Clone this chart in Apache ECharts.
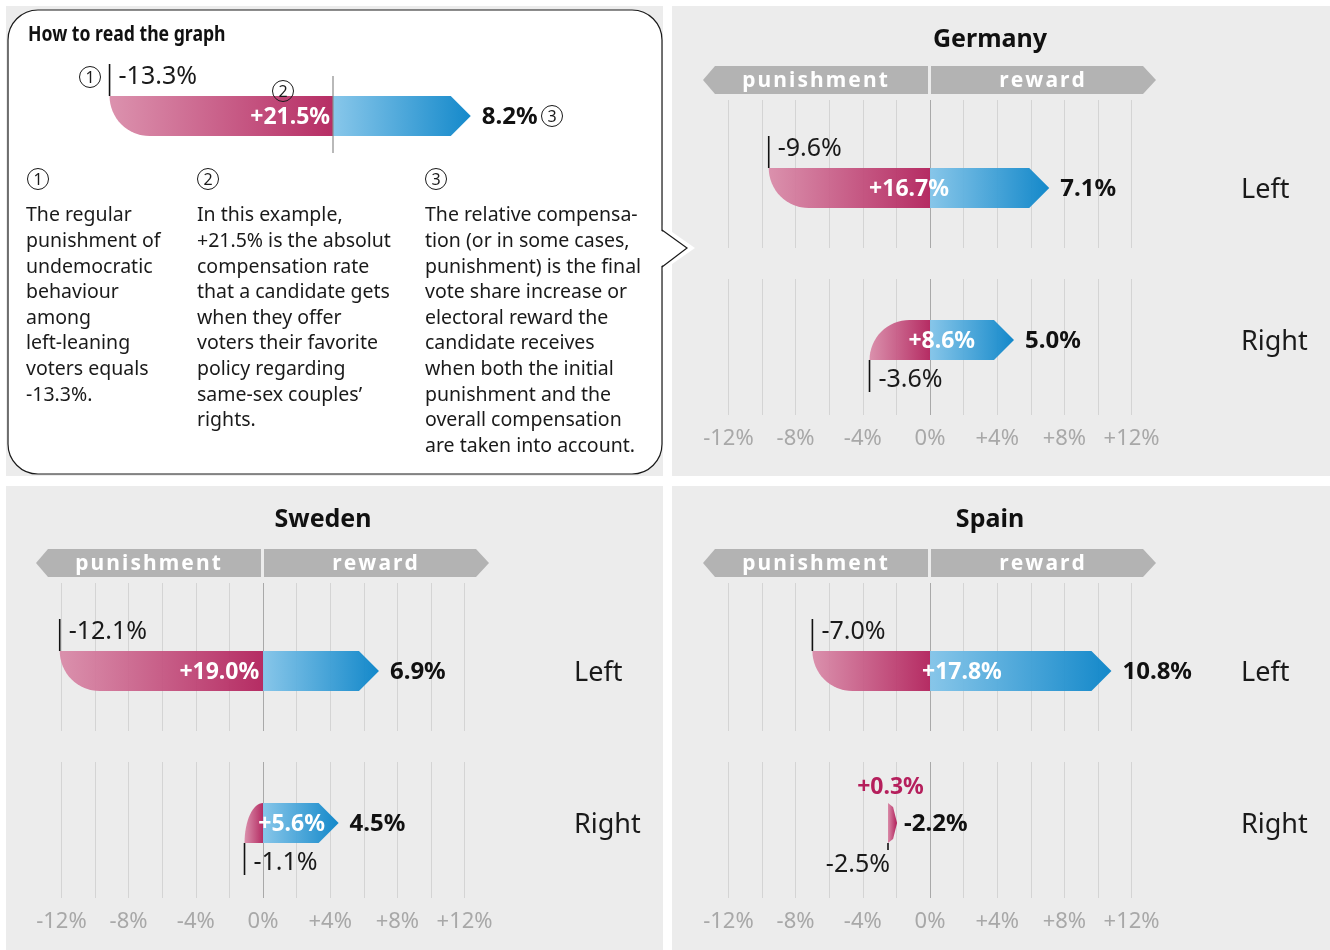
<!DOCTYPE html>
<html>
<head>
<meta charset="utf-8">
<script src="https://cdn.jsdelivr.net/npm/echarts@6/dist/echarts.min.js"></script>
<style>
  html, body { margin: 0; padding: 0; background: #fff; }
  #main { width: 1330px; height: 950px; }
</style>
</head>
<body>
<div id="main"></div>
<script>
  // values, in percentage points
  const countries = ['Germany', 'Sweden', 'Spain']
  const groups = ['Left', 'Right']
  const punishLeft = [-9.6, -12.1, -7.0]
  const compLeft = [16.7, 19.0, 17.8]
  const finalLeft = [7.1, 6.9, 10.8]
  const punishRight = [-3.6, -1.1, -2.5]
  const compRight = [8.6, 5.6, 0.3]
  const finalRight = [5.0, 4.5, -2.2]
  const examplePunish = [-13.3]
  const exampleComp = [21.5]
  const exampleFinal = [8.2]
  const tickLabels = ['-12%', '-8%', '-4%', '0%', '+4%', '+8%', '+12%']

  // layout
  const PX = 16.8 // px per point
  const FONT = '"Noto Sans", "Open Sans", sans-serif'
  const panels = [
    { x0: 930, top: 6, titleY: 40 },   // Germany
    { x0: 263, top: 489, titleY: 520 }, // Sweden
    { x0: 930, top: 489, titleY: 520 }, // Spain
  ]
  const rowFrac = [88 / 148, 61 / 136]
  const PINK = ['#d98aa8', '#b11e59']
  const BLUE = ['#82c4e9', '#0883c8']
  const CRIMSON = '#b51f5c'

  const grad = c => new echarts.graphic.LinearGradient(0, 0, 1, 0, [
    { offset: 0, color: c[0] }, { offset: 1, color: c[1] }
  ])

  // one arrow bar: punishment (pink) then compensation (blue arrow)
  const makeBar = (frac, below, rowName) => (params, api) => {
    const p = api.value(0), comp = api.value(1), f = api.value(2)
    const yc = api.coord([0, frac])[1]
    const xp = api.coord([p, frac])[0]
    const x0 = api.coord([0, frac])[0]
    const xf = api.coord([f, frac])[0]
    const h = 40, top = yc - h / 2, bot = yc + h / 2
    const kids = []

    if (f > 0) {
      const rx = Math.min(40, x0 - xp), ry = h
      const pts = []
      if (!below) {
        pts.push([xp, top], [x0, top], [x0, bot])
        for (let k = 0; k <= 16; k++) {
          const t = Math.PI / 2 + (Math.PI / 2) * k / 16
          pts.push([xp + rx + rx * Math.cos(t), top + ry * Math.sin(t)])
        }
      } else {
        for (let k = 0; k <= 16; k++) {
          const t = Math.PI + (Math.PI / 2) * k / 16
          pts.push([xp + rx + rx * Math.cos(t), bot + ry * Math.sin(t)])
        }
        pts.push([x0, top], [x0, bot])
      }
      kids.push({ type: 'polygon', shape: { points: pts }, style: { fill: grad(PINK), opacity: 0.93 } })
      const a = Math.min(20, xf - x0)
      kids.push({
        type: 'polygon',
        shape: { points: [[x0, top], [xf - a, top], [xf, yc], [xf - a, bot], [x0, bot]] },
        style: { fill: grad(BLUE), opacity: 0.95 }
      })
    } else {
      // net punishment: a pink sliver pointing right
      kids.push({
        type: 'polygon',
        shape: { points: [[xp, top], [xf, top + 4], [xf + 4, yc], [xf, bot - 4], [xp, bot]] },
        style: { fill: grad(PINK) }
      })
    }

    // punishment marker and labels
    if (f > 0) {
      const y1 = below ? bot : top, y2 = below ? bot + 32 : top - 32
      kids.push({ type: 'line', shape: { x1: xp, y1: y1, x2: xp, y2: y2 }, style: { stroke: '#111', lineWidth: 1.6 } })
      kids.push({
        type: 'text', x: xp + 9, y: below ? bot + 20 : top - 19,
        style: { text: p.toFixed(1) + '%', fill: '#1a1a1a', font: '25px ' + FONT, align: 'left', verticalAlign: 'middle' }
      })
      kids.push({
        type: 'text', x: (xp + xf) / 2, y: yc + 1,
        style: { text: '+' + comp.toFixed(1) + '%', fill: '#fff', font: 'bold 23px ' + FONT, align: 'center', verticalAlign: 'middle' }
      })
    } else {
      kids.push({ type: 'line', shape: { x1: xp, y1: bot, x2: xp, y2: bot + 7 }, style: { stroke: '#111', lineWidth: 1.6 } })
      kids.push({
        type: 'text', x: xp + 2, y: bot + 22,
        style: { text: p.toFixed(1) + '%', fill: '#1a1a1a', font: '25px ' + FONT, align: 'right', verticalAlign: 'middle' }
      })
      kids.push({
        type: 'text', x: (xp + xf) / 2, y: top - 16,
        style: { text: '+' + comp.toFixed(1) + '%', fill: CRIMSON, font: 'bold 23px ' + FONT, align: 'center', verticalAlign: 'middle' }
      })
    }
    kids.push({
      type: 'text', x: Math.max(xf, xp) + 11, y: yc + 1,
      style: { text: f.toFixed(1) + '%', fill: '#111', font: 'bold 24px ' + FONT, align: 'left', verticalAlign: 'middle' }
    })
    if (rowName) {
      kids.push({
        type: 'text', x: x0 + 311, y: yc + 2,
        style: { text: rowName, fill: '#1a1a1a', font: '27px ' + FONT, align: 'left', verticalAlign: 'middle' }
      })
    }
    return { type: 'group', children: kids }
  }

  // grids, axes, series
  const grid = [], xAxis = [], yAxis = [], series = []
  const splitColors = tickLabels.concat(tickLabels.slice(1)).map((t, i) => i === 6 ? '#a9a9a9' : '#d4d4d4')

  countries.forEach((c, i) => {
    const pn = panels[i]
    ;[[pn.top + 94, 148], [pn.top + 273, 136]].forEach((g, r) => {
      const gi = grid.length
      grid.push({ left: pn.x0 - 12 * PX, top: g[0], width: 24 * PX, height: g[1] })
      xAxis.push({
        gridIndex: gi, type: 'value', min: -12, max: 12, interval: 2, z: 3,
        axisLine: { show: false }, axisTick: { show: false },
        splitLine: { show: true, lineStyle: { color: splitColors, width: 1 } },
        axisLabel: {
          show: r === 1, margin: 13, color: '#a8a8a8', fontSize: 22, fontFamily: FONT,
          formatter: v => { const k = (v + 12) / 4; return Number.isInteger(k) ? tickLabels[k] : '' }
        }
      })
      yAxis.push({ gridIndex: gi, type: 'value', min: 0, max: 1, inverse: true, show: false })
      const pv = r === 0 ? punishLeft : punishRight
      const cv = r === 0 ? compLeft : compRight
      const fv = r === 0 ? finalLeft : finalRight
      series.push({
        type: 'custom', xAxisIndex: gi, yAxisIndex: gi, z: 4, silent: true,
        renderItem: makeBar(rowFrac[r], r === 1, groups[r]),
        data: [[pv[i], cv[i], fv[i]]]
      })
    })
  })

  // "how to read" example bar
  const exX0 = 333
  grid.push({ left: exX0 - 14 * PX, top: 60, width: 28 * PX, height: 100 })
  xAxis.push({ gridIndex: 6, type: 'value', min: -14, max: 14, show: false })
  yAxis.push({ gridIndex: 6, type: 'value', min: 0, max: 1, inverse: true, show: false })
  series.push({
    type: 'custom', xAxisIndex: 6, yAxisIndex: 6, z: 4, silent: true,
    renderItem: makeBar(0.56, false, null),
    data: [[examplePunish[0], exampleComp[0], exampleFinal[0]]]
  })

  // static drawing: panels, callout, headers, titles, notes
  const graphics = []
  ;[[6, 6, 657, 470], [672, 6, 658, 470], [6, 486, 657, 464], [672, 486, 658, 464]].forEach(r => {
    graphics.push({ type: 'rect', z: 1, shape: { x: r[0], y: r[1], width: r[2], height: r[3] }, style: { fill: '#ececec' } })
  })
  graphics.push({ type: 'polygon', z: 2, shape: { points: [[655, 220], [695, 248], [655, 276]] }, style: { fill: '#fff' } })
  graphics.push({ type: 'rect', z: 2, shape: { x: 8, y: 10, width: 654, height: 464, r: 30 }, style: { fill: '#fff', stroke: '#1a1a1a', lineWidth: 1.2 } })
  graphics.push({ type: 'polygon', z: 2, shape: { points: [[660, 230], [687, 248], [660, 267]] }, style: { fill: '#fff' } })
  graphics.push({ type: 'polyline', z: 2, shape: { points: [[662, 230], [687, 248], [662, 267]] }, style: { stroke: '#1a1a1a', lineWidth: 1.2, fill: null } })

  const txt = (x, y, text, font, fill, align) => ({
    type: 'text', z: 6, x: x, y: y,
    style: { text: text, font: font, fill: fill, align: align, textAlign: align, verticalAlign: 'middle', textVerticalAlign: 'middle' }
  })

  countries.forEach((c, i) => {
    const pn = panels[i]
    const hy = pn.top + 60
    graphics.push(txt(pn.x0 + 60, pn.titleY, c, 'bold 25px ' + FONT, '#111', 'center'))
    graphics.push({
      type: 'polygon', z: 2,
      shape: { points: [[pn.x0 - 227, hy + 14], [pn.x0 - 215, hy], [pn.x0 - 2, hy], [pn.x0 - 2, hy + 28], [pn.x0 - 215, hy + 28]] },
      style: { fill: '#b3b3b3' }
    })
    graphics.push({
      type: 'polygon', z: 2,
      shape: { points: [[pn.x0 + 1, hy], [pn.x0 + 213, hy], [pn.x0 + 226, hy + 14], [pn.x0 + 213, hy + 28], [pn.x0 + 1, hy + 28]] },
      style: { fill: '#b3b3b3' }
    })
    graphics.push(txt(pn.x0 - 115, hy + 15, 'punishment'.split('').join('\u200A'), 'bold 21px ' + FONT, '#fff', 'center'))
    graphics.push(txt(pn.x0 + 112, hy + 15, 'reward'.split('').join('\u200A'), 'bold 21px ' + FONT, '#fff', 'center'))
  })

  // example annotations
  const howTo = txt(28, 35, 'How to read the graph', 'bold 21px ' + FONT, '#111', 'left')
  howTo.scaleX = 0.84
  graphics.push(howTo)
  graphics.push({ type: 'line', z: 6, shape: { x1: exX0, y1: 76, x2: exX0, y2: 153 }, style: { stroke: '#8a8a8a', lineWidth: 1.2 } })
  const circled = (n, cx, cy) => {
    graphics.push({ type: 'circle', z: 6, shape: { cx: cx, cy: cy, r: 10.5 }, style: { fill: 'rgba(255,255,255,0)', stroke: '#1a1a1a', lineWidth: 1 } })
    graphics.push(txt(cx, cy + 1, String(n), '16px ' + FONT, '#1a1a1a', 'center'))
  }
  circled(1, 90, 77)
  circled(2, 283, 91)
  circled(3, 552, 116)
  circled(1, 38, 179)
  circled(2, 208, 179)
  circled(3, 436, 179)

  const notes = [
    'The regular\npunishment of\nundemocratic\nbehaviour\namong\nleft-leaning\nvoters equals\n-13.3%.',
    'In this example,\n+21.5% is the absolut\ncompensation rate\nthat a candidate gets\nwhen they offer\nvoters their favorite\npolicy regarding\nsame-sex couples\u2019\nrights.',
    'The relative compensa-\ntion (or in some cases,\npunishment) is the final\nvote share increase or\nelectoral reward the\ncandidate receives\nwhen both the initial\npunishment and the\noverall compensation\nare taken into account.'
  ]
  ;[26, 197, 425].forEach((x, i) => {
    graphics.push({
      type: 'text', z: 6, x: x, y: 203,
      style: { text: notes[i], font: '19.5px ' + FONT, fill: '#1a1a1a', lineHeight: 25.6, align: 'left', textAlign: 'left', verticalAlign: 'top', textVerticalAlign: 'top' }
    })
  })

  const myChart = echarts.init(document.getElementById('main'))
  myChart.setOption({
    animation: false,
    backgroundColor: '#fff',
    grid: grid,
    xAxis: xAxis,
    yAxis: yAxis,
    series: series,
    graphic: { elements: graphics }
  })
</script>
</body>
</html>
